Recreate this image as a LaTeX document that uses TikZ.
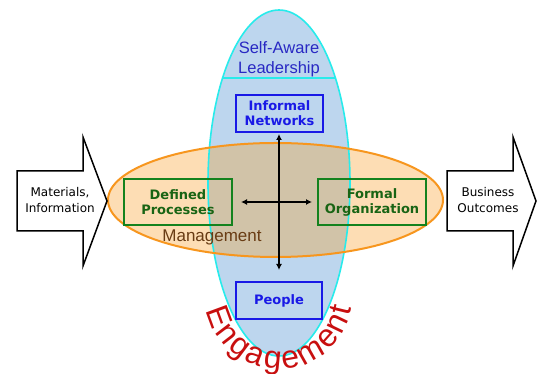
\documentclass[tikz,border=0pt]{standalone}
\usepackage{fontspec}
\setmainfont{Liberation Sans}
\newfontfamily\boxfont{DejaVu Sans}
\newfontfamily\handfont{DejaVu Sans}
\usetikzlibrary{arrows.meta,decorations.text}

\definecolor{leadfill}{RGB}{189,214,238}
\definecolor{leadline}{RGB}{40,235,235}
\definecolor{mgmtfill}{RGB}{253,221,180}
\definecolor{mgmtline}{RGB}{247,150,30}
\definecolor{overlap}{RGB}{209,195,168}
\definecolor{netblue}{RGB}{25,25,230}
\definecolor{leadtext}{RGB}{40,40,195}
\definecolor{procgreen}{RGB}{20,130,30}
\definecolor{proctext}{RGB}{25,100,20}
\definecolor{mgmttext}{RGB}{105,60,20}
\definecolor{engred}{RGB}{200,15,15}

\tikzset{
  bluebox/.style={draw=netblue, line width=2pt, text=netblue, align=center,
    font=\boxfont\bfseries\fontsize{13}{15}\selectfont, inner sep=0pt},
  greenbox/.style={draw=procgreen, line width=2pt, text=proctext, align=center,
    font=\boxfont\bfseries\fontsize{13}{15}\selectfont, inner sep=0pt,
    minimum width=108, minimum height=46},
  blockarrow/.style={draw=black, fill=white, line width=1.5pt, line join=miter},
  flowlabel/.style={align=center, font=\handfont\fontsize{12}{16.5}\selectfont},
  crossarrow/.style={{Latex[length=6pt,width=6pt]}-{Latex[length=6pt,width=6pt]}, line width=1.3pt}
}

\begin{document}
\begin{tikzpicture}[x=1pt,y=1pt]
\useasboundingbox (0,0) rectangle (542,374);

% leadership ellipse (vertical) and management ellipse (horizontal)
\fill[leadfill] (279,191) ellipse[x radius=71, y radius=173];
\fill[mgmtfill] (275.5,174) ellipse[x radius=167.5, y radius=57];
\begin{scope}
  \clip (279,191) ellipse[x radius=71, y radius=173];
  \fill[overlap] (275.5,174) ellipse[x radius=167.5, y radius=57];
  \draw[leadline, line width=1.2pt] (190,296) -- (370,296);
\end{scope}
\draw[leadline, line width=1.6pt] (279,191) ellipse[x radius=71, y radius=173];
\draw[mgmtline, line width=2pt] (275.5,174) ellipse[x radius=167.5, y radius=57];

% titles of the two ellipses
\node[leadtext, align=center, font=\fontsize{16.5}{20}\selectfont] (lead) at (279,315) {Self-Aware\\Leadership};
\node[mgmttext, font=\fontsize{17}{20}\selectfont] (mgmt) at (212,137) {Management};

% the four boxes
\node[bluebox, minimum width=87, minimum height=37] (inet) at (279.5,260.5) {Informal\\Networks};
\node[bluebox, minimum width=86, minimum height=37] (people) at (279,73.5) {People};
\node[greenbox] (defp) at (178,172) {Defined\\Processes};
\node[greenbox] (formal) at (372,172) {Formal\\Organization};

% cross of double arrows
\draw[crossarrow, shorten <=2pt, shorten >=11pt] (279,242) -- (people.north -| 279,0);
\draw[crossarrow, shorten <=8pt, shorten >=5pt] (defp.east) -- (formal.west);

% inflow and outflow block arrows
\draw[blockarrow] (17,203) -- (83,203) -- (83,237) -- (107,173) -- (83,108) -- (83,143) -- (17,143) -- cycle;
\draw[blockarrow] (447,203) -- (513,203) -- (513,237) -- (536,173) -- (513,108) -- (513,143) -- (447,143) -- cycle;
\node[flowlabel] (inflow) at (60,174) {Materials,\\Information};
\node[flowlabel] (outflow) at (488,174) {Business\\Outcomes};

% curved label under the leadership ellipse
\path[decorate, decoration={text along path, text align=fit to path, text color=engred,
    text={|\fontsize{32}{34}\selectfont|Engagement}}]
  (279,79) ++(192:74) arc[start angle=192, end angle=350, radius=74];
\end{tikzpicture}
\end{document}
